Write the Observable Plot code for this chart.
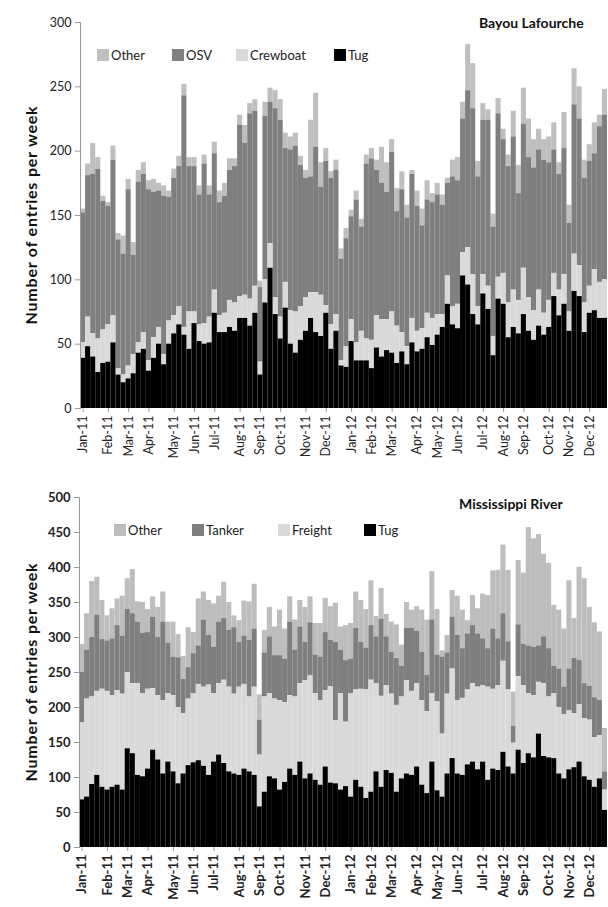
<!DOCTYPE html>
<html>
<head>
<meta charset="utf-8">
<script src="https://cdn.jsdelivr.net/npm/d3@7"></script>
<script src="https://cdn.jsdelivr.net/npm/@observablehq/plot@0.6"></script>
<style>
  html, body { margin: 0; padding: 0; background: #fff; }
  #page { position: relative; width: 608px; height: 907px; overflow: hidden; font-family: Lato, "Open Sans", sans-serif; color: #222; }
  .chart { position: absolute; left: 0; }
  .title { position: absolute; font-weight: bold; font-size: 14px; color: #111; white-space: nowrap; transform: translateY(-50%); }
  .ytitle { position: absolute; font-weight: bold; font-size: 16px; letter-spacing: 0.8px; color: #111; white-space: nowrap; transform: translate(-50%, -50%) rotate(-90deg); }
  .legend-item { position: absolute; display: flex; align-items: center; font-size: 13px; color: #222; white-space: nowrap; transform: translateY(-50%); }
  .legend-item span.sw { display: inline-block; width: 12px; height: 12px; margin-right: 2px; }
</style>
</head>
<body>
<div id="page"></div>
<script>
// Weekly vessel entries, 104 weeks starting 1 Jan 2011
const weekCount = 104;
const firstWeek = new Date(2011, 0, 1);

// Bayou Lafourche: entries per week by vessel type
const bayouTug = [39,48,40,28,35,36,51,26,20,23,27,43,46,29,39,50,34,50,58,65,57,46,66,52,50,51,74,59,59,63,60,70,70,64,74,26,82,109,73,54,78,50,43,53,60,70,59,56,74,46,60,33,32,52,37,37,37,31,47,40,45,43,35,44,34,51,44,46,55,49,57,63,81,65,62,103,96,73,65,89,77,41,85,81,55,63,58,73,60,53,64,57,63,87,72,81,60,91,87,59,74,76,70,70];
const bayouCrewboat = [12,23,18,26,26,29,21,5,6,10,15,8,13,8,16,13,8,18,14,14,6,29,9,13,16,20,18,13,15,21,22,17,18,21,21,10,18,19,13,17,20,26,32,26,26,20,31,32,6,19,13,4,16,17,14,23,17,22,25,29,24,32,29,15,14,19,16,16,19,21,16,10,22,14,19,18,29,31,14,15,18,15,17,24,27,29,26,36,26,23,28,17,21,18,20,23,15,29,24,23,21,32,28,30];
const bayouOSV = [101,110,124,132,100,92,121,100,94,137,77,125,123,133,113,106,123,96,107,109,180,113,113,101,124,95,106,88,91,101,106,133,118,144,136,58,127,110,147,153,104,125,129,110,93,90,113,84,112,114,112,79,84,80,111,81,136,141,113,106,99,124,89,111,100,112,97,80,88,90,93,85,72,101,96,104,122,129,101,120,129,85,127,104,106,119,83,112,109,111,109,119,107,96,90,98,69,116,114,97,97,90,121,128];
const bayouOther = [3,9,24,9,4,3,11,5,14,8,10,9,9,7,10,6,8,5,7,8,9,7,7,7,7,7,9,9,10,9,6,8,14,8,9,5,11,11,14,16,12,10,10,7,6,44,42,19,10,5,8,8,8,5,7,6,7,8,8,28,23,10,18,14,10,3,12,13,15,7,9,8,4,13,18,13,36,35,12,13,8,10,12,8,9,20,22,28,30,22,16,16,20,21,9,28,14,28,25,14,13,24,9,20];

// Mississippi River: entries per week by vessel type
const riverTug = [68,72,90,103,86,82,86,89,82,141,134,103,101,112,139,125,105,122,108,91,105,117,121,124,116,103,122,132,120,108,
  105,103,112,108,103,58,79,101,98,82,93,112,103,122,98,105,96,89,115,92,91,82,87,72,96,86,
  70,79,108,86,110,106,79,98,105,103,115,89,77,122,81,72,105,127,105,103,118,122,111,122,
  96,112,110,136,115,105,139,120,134,128,162,130,128,127,105,98,111,114,122,101,96,86,98,53];
const riverFreight = [110,140,125,120,140,141,131,135,137,109,100,131,119,114,88,92,105,98,109,109,86,95,99,109,113,129,98,102,119,121,
  114,126,121,107,126,74,136,119,114,128,114,105,112,112,140,140,124,121,109,138,90,138,92,148,129,140,
  155,160,126,130,121,113,124,117,133,120,119,121,117,98,127,90,114,128,105,110,107,112,118,109,
  133,114,121,130,110,44,105,111,86,89,74,104,87,93,95,92,84,77,82,83,86,71,62,29];
const riverTanker = [72,70,85,109,71,72,81,93,83,90,100,88,86,81,102,83,112,72,55,71,49,45,57,55,96,71,66,88,88,81,
  95,64,69,81,83,50,63,81,62,64,62,105,67,81,55,76,55,62,83,66,112,62,88,49,88,67,
  60,78,67,110,70,60,67,44,75,90,75,69,52,105,67,110,59,74,93,71,80,83,76,67,
  55,86,67,68,69,24,74,59,68,69,52,67,69,39,55,39,60,79,63,50,48,57,50,26];
const riverOther = [40,52,80,54,56,36,43,38,57,44,63,29,44,33,29,43,43,30,50,33,33,57,30,67,40,50,62,37,52,40,
  17,31,50,55,64,36,32,42,41,65,43,36,43,38,50,37,45,48,49,48,56,33,50,51,52,60,
  55,64,29,44,32,43,48,30,37,26,35,60,79,69,65,9,25,38,56,55,19,43,36,64,
  76,83,98,98,102,49,92,102,169,155,159,118,122,87,84,83,126,57,133,150,113,107,98,62];

const bayouTicks = [0, 50, 100, 150, 200, 250, 300];
const riverTicks = [0, 50, 100, 150, 200, 250, 300, 350, 400, 450, 500];

const weekStarts = d3.range(weekCount).map(i => d3.timeDay.offset(firstWeek, 7 * i));
const monthFormat = d3.timeFormat("%b-%y");
// first week of every month carries a tick label
const monthTickWeeks = d3.range(weekCount).filter(i => i === 0 || weekStarts[i].getMonth() !== weekStarts[i - 1].getMonth());

const page = document.getElementById("page");

function el(tag, cls, style, text) {
  const e = document.createElement(tag);
  if (cls) e.className = cls;
  Object.assign(e.style, style);
  if (text != null) e.textContent = text;
  page.appendChild(e);
  return e;
}

function stackedChart({top, height, marginTop, marginBottom, marginLeft, yMax, yTicks, series, colors, order, fontSize, fontWeight}) {
  const rows = series.flatMap(s => s.values.map((v, i) => ({week: i, series: s.name, value: v})));
  const chart = Plot.plot({
    width: 608,
    height,
    marginTop,
    marginBottom,
    marginLeft,
    marginRight: 1,
    style: {fontFamily: "Lato, 'Open Sans', sans-serif", fontSize: fontSize + "px", fontWeight, color: "#222", background: "transparent", overflow: "visible"},
    x: {type: "band", domain: d3.range(weekCount), padding: 0, round: false},
    y: {domain: [0, yMax]},
    color: {domain: series.map(s => s.name), range: colors},
    marks: [
      Plot.barY(rows, {x: "week", y: "value", fill: "series", order}),
      Plot.frame({anchor: "left", stroke: "#9a9a9a"}),
      Plot.axisY({ticks: yTicks, tickSize: 5, tickPadding: 4, stroke: "#9a9a9a", label: null}),
      Plot.axisX({ticks: monthTickWeeks, tickFormat: i => monthFormat(weekStarts[i]), tickRotate: -90, tickSize: 4, tickPadding: 3, stroke: "#9a9a9a", label: null})
    ]
  });
  const holder = el("div", "chart", {top: top + "px"});
  holder.appendChild(chart);
}

// Bayou Lafourche
stackedChart({
  top: 0, height: 470, marginTop: 22, marginBottom: 62, marginLeft: 80,
  yMax: 300, yTicks: bayouTicks, fontSize: 12.5, fontWeight: "normal",
  series: [
    {name: "Other", values: bayouOther},
    {name: "OSV", values: bayouOSV},
    {name: "Crewboat", values: bayouCrewboat},
    {name: "Tug", values: bayouTug}
  ],
  colors: ["#bfbfbf", "#7f7f7f", "#d9d9d9", "#000000"],
  order: ["Tug", "Crewboat", "OSV", "Other"]
});

// Mississippi River
stackedChart({
  top: 480, height: 427, marginTop: 17, marginBottom: 60, marginLeft: 79,
  yMax: 500, yTicks: riverTicks, fontSize: 13, fontWeight: "bold",
  series: [
    {name: "Other", values: riverOther},
    {name: "Tanker", values: riverTanker},
    {name: "Freight", values: riverFreight},
    {name: "Tug", values: riverTug}
  ],
  colors: ["#bdbdbd", "#7f7f7f", "#d9d9d9", "#000000"],
  order: ["Tug", "Freight", "Tanker", "Other"]
});

// titles, legends and axis titles
el("div", "title", {left: "479px", top: "22px"}, "Bayou Lafourche");
el("div", "title", {left: "459px", top: "503px"}, "Mississippi River");
el("div", "ytitle", {left: "30px", top: "215px"}, "Number of entries per week");
el("div", "ytitle", {left: "30px", top: "672px"}, "Number of entries per week");

function legend(items, y) {
  for (const it of items) {
    const d = el("div", "legend-item", {left: it.x + "px", top: y + "px"});
    const sw = document.createElement("span");
    sw.className = "sw";
    sw.style.background = it.color;
    d.appendChild(sw);
    d.appendChild(document.createTextNode(it.name));
  }
}
legend([
  {name: "Other", color: "#bfbfbf", x: 97},
  {name: "OSV", color: "#7f7f7f", x: 172},
  {name: "Crewboat", color: "#d9d9d9", x: 236},
  {name: "Tug", color: "#000000", x: 334}
], 55);
legend([
  {name: "Other", color: "#bdbdbd", x: 114},
  {name: "Tanker", color: "#7f7f7f", x: 192},
  {name: "Freight", color: "#d9d9d9", x: 278},
  {name: "Tug", color: "#000000", x: 364}
], 530);
</script>
</body>
</html>
